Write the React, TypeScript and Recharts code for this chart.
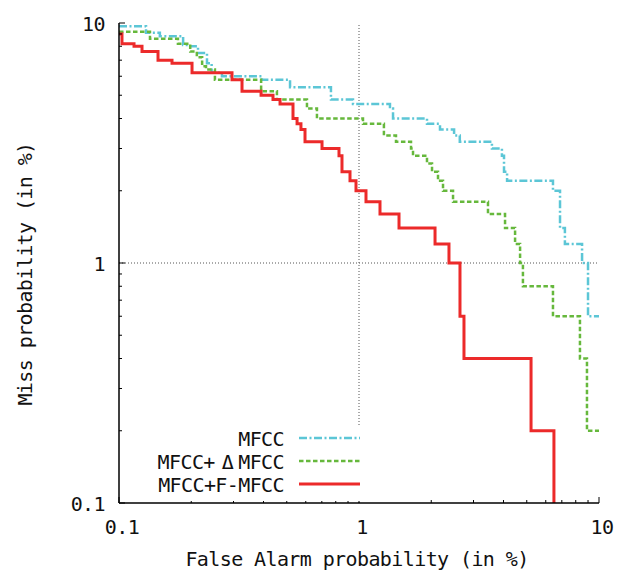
import React from 'react';
import { LineChart, Line, XAxis, YAxis, ReferenceLine, Legend } from 'recharts';

const FONT = "'DejaVu Sans Mono', monospace";

// False alarm (%) where each step starts, and the miss probability (%) of that step
const mfccFA = [0.1, 0.1296, 0.148, 0.185, 0.198, 0.2134, 0.2326, 0.2432, 0.2685, 0.394, 0.516, 0.764, 0.944, 1.346, 1.386, 1.92, 2.175, 2.49, 2.63, 3.58, 3.94, 4.02, 4.14, 6.43, 6.88, 7.21, 8.5, 9.0, 10];
const mfccMiss = [9.7, 9.1, 8.8, 8.1, 8.0, 7.5, 6.8, 6.2, 6.0, 5.8, 5.4, 4.8, 4.6, 4.4, 4.0, 3.8, 3.6, 3.4, 3.2, 3.0, 2.8, 2.4, 2.2, 2.0, 1.4, 1.2, 1.0, 0.6, 0.6];

const deltaFA = [0.1, 0.1346, 0.176, 0.198, 0.211, 0.222, 0.2304, 0.251, 0.391, 0.455, 0.607, 0.668, 1.039, 1.27, 1.426, 1.647, 1.679, 1.92, 2.015, 2.134, 2.239, 2.465, 3.447, 4.06, 4.47, 4.69, 4.82, 6.43, 8.33, 8.91, 10];
const deltaMiss = [9.2, 8.6, 8.2, 7.6, 7.2, 6.6, 6.4, 5.8, 5.2, 4.8, 4.4, 4.0, 3.8, 3.4, 3.2, 3.0, 2.8, 2.6, 2.4, 2.2, 2.0, 1.8, 1.6, 1.4, 1.2, 1.0, 0.8, 0.6, 0.4, 0.2, 0.2];

const fmfccFA = [0.1, 0.1029, 0.1155, 0.1247, 0.1454, 0.1663, 0.2015, 0.2957, 0.3255, 0.3908, 0.4382, 0.4688, 0.5309, 0.552, 0.573, 0.5957, 0.7013, 0.8254, 0.8494, 0.9173, 0.9716, 1.0694, 1.2232, 1.468, 2.074, 2.371, 2.635, 2.738, 5.21, 6.49];
const fmfccMiss = [9.0, 8.2, 8.0, 7.6, 7.0, 6.8, 6.2, 5.8, 5.2, 5.0, 4.8, 4.6, 4.0, 3.8, 3.6, 3.2, 3.0, 2.8, 2.4, 2.2, 2.0, 1.8, 1.6, 1.4, 1.2, 1.0, 0.6, 0.4, 0.2, 0.1];

const seriesNames = ['MFCC', 'MFCC+\u0394MFCC', 'MFCC+F-MFCC'];
const seriesColors = ['#5cc6d6', '#66b83c', '#ec2a2a'];
const seriesDash = ['8 2.5 2 2.5', '4.5 2.5', ''];
const seriesWidth = [2.5, 2.5, 3];

const majorTicks = [0.1, 1, 10];
const majorTickLabels = ['0.1', '1', '10'];
const minorTicks = [0.2, 0.3, 0.4, 0.5, 0.6, 0.7, 0.8, 0.9, 2, 3, 4, 5, 6, 7, 8, 9];
const allTicks = [...majorTicks, ...minorTicks].sort((a, b) => a - b);

const xLabel = 'False Alarm probability (in %)';
const yLabel = 'Miss probability (in %)';

const toPoints = (xs: number[], ys: number[]) => xs.map((x, i) => ({ x, y: ys[i] }));
const mfccData = toPoints(mfccFA, mfccMiss);
const deltaData = toPoints(deltaFA, deltaMiss);
const fmfccData = toPoints(fmfccFA, fmfccMiss);

const majorIndex = (v: number) => majorTicks.findIndex((m) => Math.abs(m - v) < 1e-9);

const textStyle = { fontFamily: FONT, fontSize: 20, letterSpacing: -0.6, fill: '#111' } as const;

function BottomTick(props: any) {
  const { x, y, payload } = props;
  const mi = majorIndex(payload.value);
  return (
    <g>
      <line x1={x} x2={x} y1={y} y2={y - (mi >= 0 ? 6 : 3)} stroke="#000" strokeWidth={1} />
      {mi >= 0 && (
        <text x={x + 3} y={y + 31} textAnchor="middle" {...textStyle}>
          {majorTickLabels[mi]}
        </text>
      )}
    </g>
  );
}

function TopTick(props: any) {
  const { x, y, payload } = props;
  const mi = majorIndex(payload.value);
  return <line x1={x} x2={x} y1={y} y2={y + (mi >= 0 ? 6 : 3)} stroke="#000" strokeWidth={1} />;
}

function LeftTick(props: any) {
  const { x, y, payload } = props;
  const mi = majorIndex(payload.value);
  return (
    <g>
      <line x1={x} x2={x + (mi >= 0 ? 6 : 3)} y1={y} y2={y} stroke="#000" strokeWidth={1} />
      {mi >= 0 && (
        <text x={x - 14} y={y + 8} textAnchor="end" {...textStyle}>
          {majorTickLabels[mi]}
        </text>
      )}
    </g>
  );
}

function RightTick(props: any) {
  const { x, y, payload } = props;
  const mi = majorIndex(payload.value);
  return <line x1={x} x2={x - (mi >= 0 ? 6 : 3)} y1={y} y2={y} stroke="#000" strokeWidth={1} />;
}

function renderLegend(props: any) {
  const payload: any[] = (props.payload || []).slice();
  payload.sort((a, b) => seriesNames.indexOf(a.value) - seriesNames.indexOf(b.value));
  return (
    <svg width={215} height={76} style={{ display: 'block' }}>
      {payload.map((entry, i) => {
        const idx = seriesNames.indexOf(entry.value);
        const base = 21 + i * 23;
        const name = String(entry.value);
        const dIdx = name.indexOf('\u0394');
        return (
          <g key={name}>
            <text x={134} y={base} textAnchor="end" {...textStyle}>
              {dIdx >= 0 ? (
                <>
                  <tspan>{name.slice(0, dIdx)}</tspan>
                  <tspan dx={7}>{'\u0394'}</tspan>
                  <tspan dx={5}>{name.slice(dIdx + 1)}</tspan>
                </>
              ) : (
                name
              )}
            </text>
            <line
              x1={149}
              x2={210}
              y1={base - 8}
              y2={base - 8}
              stroke={entry.color || seriesColors[idx]}
              strokeWidth={seriesWidth[idx]}
              strokeDasharray={seriesDash[idx] || undefined}
            />
          </g>
        );
      })}
    </svg>
  );
}

export default function App() {
  return (
    <div style={{ position: 'absolute', left: 0, top: 0, background: '#fff' }}>
      <LineChart width={617} height={570} margin={{ top: 23, right: 18, bottom: 0, left: 39 }}>
        <XAxis
          dataKey="x"
          type="number"
          scale="log"
          domain={[0.1, 10]}
          allowDataOverflow
          ticks={allTicks}
          interval={0}
          tickSize={0}
          tickMargin={0}
          tickLine={false}
          tick={<BottomTick />}
          height={67}
          axisLine={{ stroke: '#000', strokeWidth: 1.5 }}
          label={{
            content: (p: any) => {
              const vb = p.viewBox;
              return (
                <text x={vb.x + vb.width / 2 - 2} y={vb.y + 63} textAnchor="middle" {...textStyle}>
                  {xLabel}
                </text>
              );
            },
          }}
        />
        <XAxis
          xAxisId="top"
          orientation="top"
          dataKey="x"
          type="number"
          scale="log"
          domain={[0.1, 10]}
          allowDataOverflow
          ticks={allTicks}
          interval={0}
          tickSize={0}
          tickMargin={0}
          tickLine={false}
          tick={<TopTick />}
          height={0}
          axisLine={{ stroke: '#000', strokeWidth: 1.5 }}
        />
        <YAxis
          dataKey="y"
          type="number"
          scale="log"
          domain={[0.1, 10]}
          allowDataOverflow
          ticks={allTicks}
          interval={0}
          tickSize={0}
          tickMargin={0}
          tickLine={false}
          tick={<LeftTick />}
          width={80}
          axisLine={{ stroke: '#000', strokeWidth: 1.5 }}
          label={{
            content: (p: any) => {
              const vb = p.viewBox;
              const cx = vb.x - 7;
              const cy = vb.y + vb.height / 2 + 11;
              return (
                <text x={cx} y={cy} transform={`rotate(-90 ${cx} ${cy})`} textAnchor="middle" {...textStyle}>
                  {yLabel}
                </text>
              );
            },
          }}
        />
        <YAxis
          yAxisId="right"
          orientation="right"
          dataKey="y"
          type="number"
          scale="log"
          domain={[0.1, 10]}
          allowDataOverflow
          ticks={allTicks}
          interval={0}
          tickSize={0}
          tickMargin={0}
          tickLine={false}
          tick={<RightTick />}
          width={0}
          axisLine={{ stroke: '#000', strokeWidth: 1.5 }}
        />
        <ReferenceLine x={1} stroke="#555" strokeDasharray="1 2" strokeWidth={1} />
        <ReferenceLine y={1} stroke="#555" strokeDasharray="1 2" strokeWidth={1} />
        <Line
          data={mfccData}
          dataKey="y"
          name={seriesNames[0]}
          type="stepAfter"
          stroke={seriesColors[0]}
          strokeWidth={seriesWidth[0]}
          strokeDasharray={seriesDash[0]}
          dot={false}
          activeDot={false}
          isAnimationActive={false}
        />
        <Line
          data={deltaData}
          dataKey="y"
          name={seriesNames[1]}
          type="stepAfter"
          stroke={seriesColors[1]}
          strokeWidth={seriesWidth[1]}
          strokeDasharray={seriesDash[1]}
          dot={false}
          activeDot={false}
          isAnimationActive={false}
        />
        <Line
          data={fmfccData}
          dataKey="y"
          name={seriesNames[2]}
          type="stepAfter"
          stroke={seriesColors[2]}
          strokeWidth={seriesWidth[2]}
          dot={false}
          activeDot={false}
          isAnimationActive={false}
        />
        <Legend
          layout="vertical"
          align="center"
          verticalAlign="middle"
          content={renderLegend}
          wrapperStyle={{ position: 'absolute', left: 150, top: 425, width: 215, height: 76, background: '#fff' }}
        />
      </LineChart>
    </div>
  );
}
